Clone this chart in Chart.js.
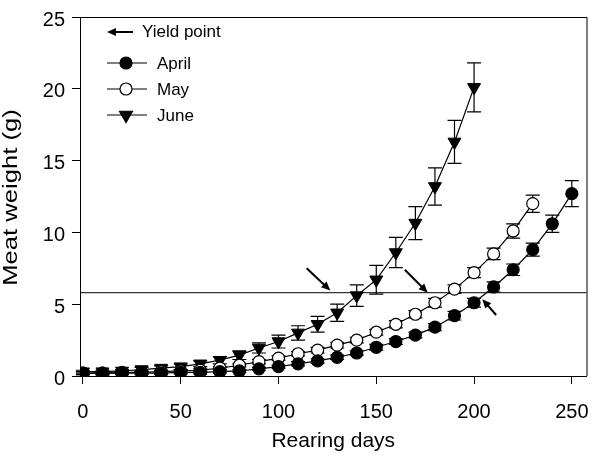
<!DOCTYPE html>
<html>
<head>
<meta charset="utf-8">
<script src="https://cdn.jsdelivr.net/npm/chart.js@4.4.0/dist/chart.umd.min.js"></script>
<style>
  html, body { margin: 0; padding: 0; background: #fff; }
</style>
</head>
<body>
<canvas id="chart" width="595" height="466"></canvas>
<script>
// === Data ===
const aprilDays = [0, 10, 20, 30, 40, 50, 60, 70, 80, 90, 100, 110, 120, 130, 140, 150, 160, 170, 180, 190, 200, 210, 220, 230, 240, 250];
const aprilWeight = [0.2, 0.2, 0.2, 0.2, 0.2, 0.25, 0.25, 0.3, 0.35, 0.5, 0.65, 0.85, 1.05, 1.3, 1.6, 2.0, 2.4, 2.85, 3.4, 4.2, 5.1, 6.2, 7.4, 8.8, 10.6, 12.7];
const aprilErr = [0.1, 0.1, 0.1, 0.1, 0.1, 0.1, 0.1, 0.1, 0.1, 0.1, 0.1, 0.15, 0.15, 0.15, 0.15, 0.2, 0.2, 0.2, 0.25, 0.3, 0.3, 0.35, 0.4, 0.45, 0.6, 0.9];

const mayDays = [0, 10, 20, 30, 40, 50, 60, 70, 80, 90, 100, 110, 120, 130, 140, 150, 160, 170, 180, 190, 200, 210, 220, 230];
const mayWeight = [0.2, 0.2, 0.25, 0.25, 0.3, 0.35, 0.4, 0.55, 0.75, 1.0, 1.25, 1.55, 1.8, 2.15, 2.5, 3.05, 3.6, 4.3, 5.1, 6.05, 7.2, 8.5, 10.1, 12.0];
const mayErr = [0.1, 0.1, 0.1, 0.1, 0.1, 0.1, 0.1, 0.1, 0.1, 0.15, 0.15, 0.15, 0.2, 0.2, 0.2, 0.2, 0.25, 0.25, 0.3, 0.3, 0.35, 0.4, 0.5, 0.6];

const juneDays = [0, 10, 20, 30, 40, 50, 60, 70, 80, 90, 100, 110, 120, 130, 140, 150, 160, 170, 180, 190, 200];
const juneWeight = [0.3, 0.3, 0.35, 0.45, 0.55, 0.65, 0.85, 1.1, 1.45, 1.95, 2.4, 3.0, 3.6, 4.4, 5.6, 6.7, 8.6, 10.65, 13.2, 16.3, 20.1];
const juneErr = [0.1, 0.1, 0.1, 0.15, 0.15, 0.2, 0.2, 0.25, 0.3, 0.35, 0.45, 0.5, 0.55, 0.6, 0.75, 1.0, 1.05, 1.15, 1.3, 1.5, 1.7];

const xTicks = [0, 50, 100, 150, 200, 250];
const yieldWeight = 5.8;

// yield point arrows: [tailDay, tailWeight, headDay, headWeight]
const yieldArrows = [
  [114.4, 7.5, 126.5, 5.95],
  [164.6, 7.4, 176.3, 5.8],
  [211.3, 4.25, 204.2, 5.35]
];

const FONT = "'Liberation Sans', Arial, sans-serif";

function toPoints(days, vals) {
  return days.map((d, i) => ({ x: d, y: vals[i] }));
}

// === Error bars + yield line ===
Chart.register({
  id: 'errorBars',
  beforeDatasetsDraw(chart) {
    const ctx = chart.ctx;
    const yScale = chart.scales.y;
    ctx.save();
    ctx.strokeStyle = '#000';
    ctx.lineWidth = 1.2;
    chart.data.datasets.forEach((ds, i) => {
      const meta = chart.getDatasetMeta(i);
      meta.data.forEach((pt, j) => {
        const v = ds.data[j].y;
        const e = ds.errors[j];
        const yTop = yScale.getPixelForValue(v + e);
        const yBot = yScale.getPixelForValue(v - e);
        ctx.beginPath();
        ctx.moveTo(pt.x, yTop);
        ctx.lineTo(pt.x, yBot);
        ctx.moveTo(pt.x - 7, yTop);
        ctx.lineTo(pt.x + 7, yTop);
        ctx.moveTo(pt.x - 7, yBot);
        ctx.lineTo(pt.x + 7, yBot);
        ctx.stroke();
      });
    });
    const area = chart.chartArea;
    const yy = yScale.getPixelForValue(yieldWeight);
    ctx.lineWidth = 1;
    ctx.beginPath();
    ctx.moveTo(area.left, yy);
    ctx.lineTo(area.right, yy);
    ctx.stroke();
    ctx.restore();
  }
});

function drawArrow(ctx, x1, y1, x2, y2) {
  const ang = Math.atan2(y2 - y1, x2 - x1);
  const hl = 9, hw = 4;
  ctx.beginPath();
  ctx.moveTo(x1, y1);
  ctx.lineTo(x2 - hl * 0.7 * Math.cos(ang), y2 - hl * 0.7 * Math.sin(ang));
  ctx.stroke();
  ctx.beginPath();
  ctx.moveTo(x2, y2);
  ctx.lineTo(x2 - hl * Math.cos(ang) + hw * Math.sin(ang), y2 - hl * Math.sin(ang) - hw * Math.cos(ang));
  ctx.lineTo(x2 - hl * Math.cos(ang) - hw * Math.sin(ang), y2 - hl * Math.sin(ang) + hw * Math.cos(ang));
  ctx.closePath();
  ctx.fill();
}

// === Arrows, frame, y title and legend ===
Chart.register({
  id: 'decor',
  afterDraw(chart) {
    const ctx = chart.ctx;
    const xs = chart.scales.x, ys = chart.scales.y;
    const a = chart.chartArea;
    ctx.save();
    ctx.strokeStyle = '#000';
    ctx.fillStyle = '#000';
    ctx.lineWidth = 2;
    yieldArrows.forEach(ar => {
      drawArrow(ctx, xs.getPixelForValue(ar[0]), ys.getPixelForValue(ar[1]),
        xs.getPixelForValue(ar[2]), ys.getPixelForValue(ar[3]));
    });

    // frame top / right
    ctx.lineWidth = 1;
    ctx.beginPath();
    ctx.moveTo(a.left, a.top + 0.5);
    ctx.lineTo(a.right + 0.5, a.top + 0.5);
    ctx.lineTo(a.right + 0.5, a.bottom);
    ctx.stroke();

    // y axis title (wide lettering like the original)
    ctx.save();
    ctx.translate(17, (a.top + a.bottom) / 2 + 1);
    ctx.rotate(-Math.PI / 2);
    ctx.scale(1.28, 1);
    ctx.font = '20px ' + FONT;
    ctx.textAlign = 'center';
    ctx.textBaseline = 'alphabetic';
    ctx.fillText('Meat weight (g)', 0, 0);
    ctx.restore();

    // legend
    const lx = a.left;
    ctx.font = '17px ' + FONT;
    ctx.textBaseline = 'middle';
    ctx.textAlign = 'left';
    ctx.lineWidth = 2;
    drawArrow(ctx, lx + 53, a.top + 15, lx + 27, a.top + 15);
    ctx.fillText('Yield point', lx + 62, a.top + 15);

    chart.data.datasets.forEach((ds, i) => {
      const y = a.top + 46 + i * 26;
      ctx.lineWidth = 1.2;
      ctx.strokeStyle = '#000';
      ctx.beginPath();
      ctx.moveTo(lx + 27, y);
      ctx.lineTo(lx + 67, y);
      ctx.stroke();
      ctx.fillStyle = ds.pointBackgroundColor;
      ctx.strokeStyle = '#000';
      Chart.helpers.drawPoint(ctx, {
        pointStyle: ds.pointStyle,
        rotation: ds.pointRotation || 0,
        radius: ds.pointRadius,
        borderWidth: ds.pointBorderWidth
      }, lx + 46, y);
      ctx.fillStyle = '#000';
      ctx.fillText(ds.label, lx + 77, y + 1);
    });
    ctx.restore();
  }
});

// === Chart ===
new Chart(document.getElementById('chart'), {
  type: 'line',
  data: {
    datasets: [
      {
        label: 'April',
        data: toPoints(aprilDays, aprilWeight),
        errors: aprilErr,
        borderColor: '#000',
        borderWidth: 1.2,
        pointStyle: 'circle',
        pointRadius: 6,
        pointBorderWidth: 1.2,
        pointBackgroundColor: '#000',
        pointBorderColor: '#000'
      },
      {
        label: 'May',
        data: toPoints(mayDays, mayWeight),
        errors: mayErr,
        borderColor: '#000',
        borderWidth: 1.2,
        pointStyle: 'circle',
        pointRadius: 6,
        pointBorderWidth: 1.2,
        pointBackgroundColor: '#fff',
        pointBorderColor: '#000'
      },
      {
        label: 'June',
        data: toPoints(juneDays, juneWeight),
        errors: juneErr,
        borderColor: '#000',
        borderWidth: 1.2,
        pointStyle: 'triangle',
        pointRotation: 180,
        pointRadius: 7.5,
        pointBorderWidth: 1,
        pointBackgroundColor: '#000',
        pointBorderColor: '#000'
      }
    ]
  },
  options: {
    responsive: false,
    animation: false,
    devicePixelRatio: 1,
    layout: { padding: { top: 17, right: 5, left: 0, bottom: 0 } },
    plugins: {
      legend: { display: false },
      tooltip: { enabled: false }
    },
    scales: {
      x: {
        type: 'linear',
        min: -1.5,
        max: 257.5,
        afterFit(scale) {
          scale.height = 90;
          scale.paddingLeft = 0;
          scale.paddingRight = 0;
        },
        afterBuildTicks(scale) { scale.ticks = xTicks.map(v => ({ value: v })); },
        grid: { drawOnChartArea: false, drawTicks: true, tickLength: 8, color: '#000', tickWidth: 1 },
        border: { display: true, color: '#000', width: 1 },
        ticks: { color: '#000', padding: 16, maxRotation: 0, font: { family: FONT, size: 20 } },
        title: { display: true, text: 'Rearing days', color: '#000', padding: { top: 0, bottom: 14 }, font: { family: FONT, size: 21, lineHeight: 1 } }
      },
      y: {
        type: 'linear',
        min: 0,
        max: 25,
        afterFit(scale) {
          scale.width = 80;
          scale.paddingTop = 0;
          scale.paddingBottom = 0;
        },
        grid: { drawOnChartArea: false, drawTicks: true, tickLength: 8, color: '#000', tickWidth: 1 },
        border: { display: true, color: '#000', width: 1 },
        ticks: { stepSize: 5, color: '#000', padding: 7, labelOffset: 3, font: { family: FONT, size: 20 } },
        title: { display: false }
      }
    }
  }
});
</script>
</body>
</html>
